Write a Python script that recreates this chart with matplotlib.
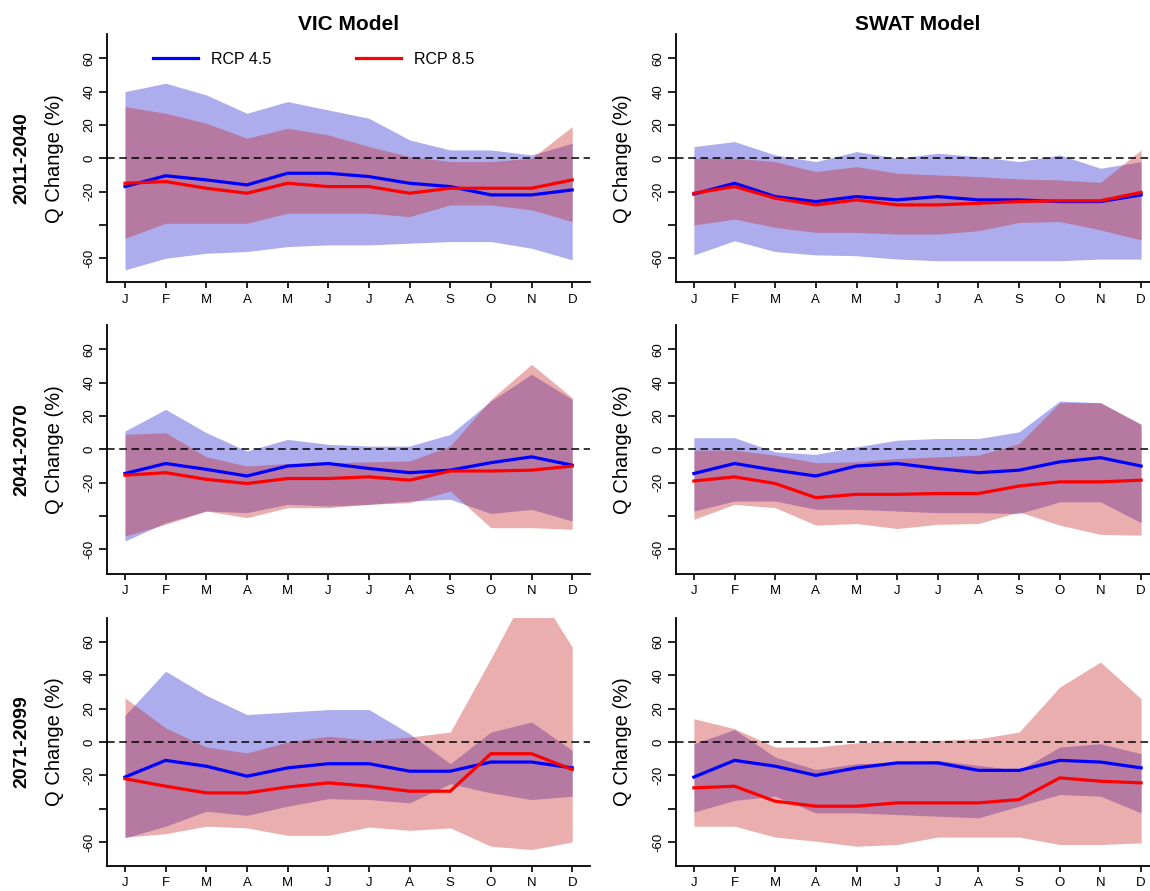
import matplotlib
matplotlib.use('Agg')
import matplotlib.pyplot as plt
import numpy as np

plt.rcParams['font.family'] = ['Liberation Sans', 'DejaVu Sans']

months = ['J', 'F', 'M', 'A', 'M', 'J', 'J', 'A', 'S', 'O', 'N', 'D']
periods = ['2011-2040', '2041-2070', '2071-2099']
models = ['VIC Model', 'SWAT Model']

# VIC 2011-2040
vic1_45_mid = [-17, -10.5, -13, -16, -9, -9, -11, -15, -17, -22, -22, -19]
vic1_45_lo = [-67, -60, -57, -56, -53, -52, -52, -51, -50, -50, -54, -61]
vic1_45_hi = [40, 45, 38, 27, 34, 29, 24, 11, 5, 5, 2, 9]
vic1_85_mid = [-15, -14, -18, -21, -15, -17, -17, -21, -18, -18, -18, -13]
vic1_85_lo = [-48, -39, -39, -39, -33, -33, -33, -35, -28, -28, -31, -38]
vic1_85_hi = [31, 27, 21, 12, 18, 14, 7, 1, -2, -2, 0, 19]

# SWAT 2011-2040
swat1_45_mid = [-21.5, -15, -23, -26, -23, -25, -23, -25, -25, -26, -26, -22]
swat1_45_lo = [-58, -49.5, -56, -58, -58.5, -60.5, -61.5, -61.5, -61.5, -61.5, -60.5, -60.5]
swat1_45_hi = [7, 10, 2, -2, 4, 0, 3, 1, -2, 2, -6, -2]
swat1_85_mid = [-21, -17, -24, -28, -25, -28, -28, -27, -26, -25.5, -25.5, -20.5]
swat1_85_lo = [-40, -36.5, -41.5, -44.5, -44.5, -45.5, -45.5, -43.5, -38.5, -38, -43, -49]
swat1_85_hi = [0, 0, -2, -8, -5, -9, -10, -11, -12.5, -13, -14.5, 5]

# VIC 2041-2070
vic2_45_mid = [-14.5, -8.5, -12, -16, -10, -8.5, -11.5, -14, -12.5, -8, -4.5, -9.5]
vic2_45_lo = [-55, -44, -37, -38, -33, -34, -33, -31, -30, -38.5, -36, -43]
vic2_45_hi = [11, 24, 10, -1, 6, 3, 2, 2, 9, 29, 45, 30]
vic2_85_mid = [-15.5, -14, -18, -20.5, -17.5, -17.5, -16.5, -18.5, -13, -13, -12.5, -10]
vic2_85_lo = [-52, -45, -37, -41, -35, -35, -33, -32, -25, -47, -47, -48]
vic2_85_hi = [9, 10, -4.5, -10, -8.5, -8, -7.5, -7, 2, 30, 51, 31]

# SWAT 2041-2070
swat2_45_mid = [-14.5, -8.5, -12.5, -16, -10, -8.5, -11.5, -14, -12.5, -7.5, -5, -10]
swat2_45_lo = [-37, -31, -31, -36, -36, -37, -38, -38, -38.5, -31.5, -31.5, -44]
swat2_45_hi = [7, 7, -1.5, -3, 1.5, 5.5, 6.5, 6.5, 10.5, 29, 28, 15]
swat2_85_mid = [-19, -16.5, -20.5, -29, -27, -27, -26.5, -26.5, -22, -19.5, -19.5, -18.5]
swat2_85_lo = [-42, -33, -35, -45.5, -44.5, -47.5, -45, -44.5, -37.5, -45.5, -51, -51.5]
swat2_85_hi = [-0.5, -0.5, -3.5, -8, -7.5, -5.5, -4.5, -3.5, 3.5, 28, 28, 15]

# VIC 2071-2099
vic3_45_mid = [-21, -11, -14.5, -20.5, -15.5, -13, -13, -17.5, -17.5, -12, -12, -15.5]
vic3_45_lo = [-57.5, -50.5, -41.5, -44, -38.5, -34, -34.5, -36.5, -25, -30.5, -34.5, -32.5]
vic3_45_hi = [16, 42.5, 28, 16.5, 18, 19.5, 19.5, 5, -13, 6, 12, -5]
vic3_85_mid = [-22, -26.5, -30.5, -30.5, -27, -24.5, -26.5, -29.5, -29.5, -7, -7, -16.5]
vic3_85_lo = [-57, -55, -50.5, -51.5, -56, -56, -51, -53, -51.5, -62.5, -64.5, -60]
vic3_85_hi = [26.5, 8.5, -3, -6.5, 0, 3.5, 1, 3, 6, 50, 96, 57]

# SWAT 2071-2099
swat3_45_mid = [-21, -11, -14.5, -20, -15.5, -12.5, -12.5, -17, -17, -11, -12, -15.5]
swat3_45_lo = [-42, -35, -32.5, -42.5, -42.5, -43.5, -44.5, -45.5, -38.5, -31.5, -32.5, -42.5]
swat3_45_hi = [-1, 7.5, -9, -16.5, -13, -12, -11, -14, -17, -3, -1, -7]
swat3_85_mid = [-27.5, -26.5, -35.5, -38.5, -38.5, -36.5, -36.5, -36.5, -34.5, -21.5, -23.5, -24.5]
swat3_85_lo = [-50.5, -50.5, -57, -59.5, -62.5, -61.5, -57, -57, -57, -61.5, -61.5, -60.5]
swat3_85_hi = [14, 8, -3, -3, -0.5, 1, 1, 2, 6, 33, 48, 26]

panels = [
    [(vic1_45_mid, vic1_45_lo, vic1_45_hi, vic1_85_mid, vic1_85_lo, vic1_85_hi),
     (swat1_45_mid, swat1_45_lo, swat1_45_hi, swat1_85_mid, swat1_85_lo, swat1_85_hi)],
    [(vic2_45_mid, vic2_45_lo, vic2_45_hi, vic2_85_mid, vic2_85_lo, vic2_85_hi),
     (swat2_45_mid, swat2_45_lo, swat2_45_hi, swat2_85_mid, swat2_85_lo, swat2_85_hi)],
    [(vic3_45_mid, vic3_45_lo, vic3_45_hi, vic3_85_mid, vic3_85_lo, vic3_85_hi),
     (swat3_45_mid, swat3_45_lo, swat3_45_hi, swat3_85_mid, swat3_85_lo, swat3_85_hi)],
]

x = np.arange(1, 13)
blue_fill = (0, 0, 200 / 255, 0.32)
red_fill = (198 / 255, 24 / 255, 24 / 255, 0.35)

fig = plt.figure(figsize=(11.5, 8.91), dpi=100)
W, H = 1150.0, 891.0
col_left = [107.1, 676.0]
ax_w = 483.0
row_bottom = [282.4, 573.5, 866.2]
ax_h = 248.3

for r in range(3):
    for c in range(2):
        m45, lo45, hi45, m85, lo85, hi85 = panels[r][c]
        ax = fig.add_axes([col_left[c] / W, 1 - row_bottom[r] / H, ax_w / W, ax_h / H])
        ax.fill_between(x, lo45, hi45, color=blue_fill, lw=0, zorder=1)
        ax.fill_between(x, lo85, hi85, color=red_fill, lw=0, zorder=1.5)
        ax.axhline(0, color='black', lw=1.1, ls=(0, (5, 3)), zorder=2)
        ax.plot(x, m45, color='blue', lw=2.3, zorder=3, label='RCP 4.5')
        ax.plot(x, m85, color='red', lw=2.3, zorder=3.5, label='RCP 8.5')

        ax.set_xlim(0.56, 12.44)
        ax.set_ylim(-74.5, 74.5)
        ax.spines['top'].set_visible(False)
        ax.spines['right'].set_visible(False)
        ax.spines['left'].set_linewidth(1.3)
        ax.spines['bottom'].set_linewidth(1.3)
        ax.set_xticks(x)
        ax.set_xticklabels(months, fontsize=9.5)
        ax.set_yticks([-60, -40, -20, 0, 20, 40, 60])
        ax.set_yticklabels(['-60', '', '-20', '0', '20', '40', '60'],
                           fontsize=9.5, rotation=90, va='center')
        ax.tick_params(axis='x', length=4, width=1.2, pad=4)
        ax.tick_params(axis='y', length=5.5, width=1.2, pad=3)

        ax.annotate('Q Change (%)', xy=(0, 0.5), xycoords='axes fraction',
                    xytext=(-53 * 0.72, 0), textcoords='offset points',
                    rotation=90, ha='center', va='center', fontsize=14.5)
        if c == 0:
            ax.annotate(periods[r], xy=(0, 0.5), xycoords='axes fraction',
                        xytext=(-85 * 0.72, 0), textcoords='offset points',
                        rotation=90, ha='center', va='center', fontsize=14,
                        fontweight='bold')
        if r == 0:
            ax.set_title(models[c], fontsize=15, fontweight='bold', pad=1)
        if r == 0 and c == 0:
            ax.legend(loc='center left', bbox_to_anchor=(0.0944, 0.899), ncol=2,
                      frameon=False, fontsize=11.5, borderpad=0, borderaxespad=0,
                      handlelength=2.85, handletextpad=0.8, columnspacing=5.3)

fig.savefig('out.png', dpi=100)
